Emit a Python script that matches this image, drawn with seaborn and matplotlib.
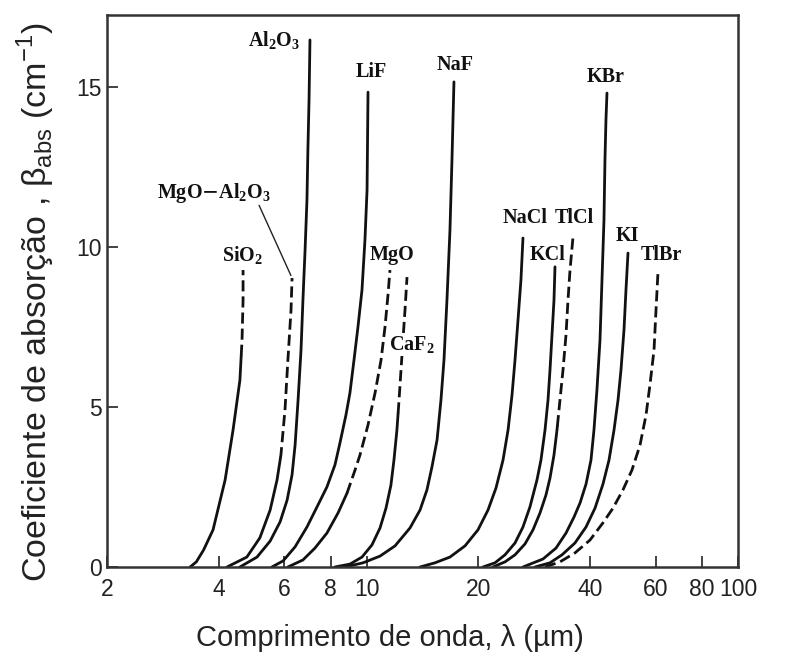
import numpy as np
import pandas as pd
import seaborn as sns
import matplotlib
matplotlib.use('Agg')
import matplotlib.pyplot as plt
from matplotlib.ticker import FixedLocator, FixedFormatter, NullLocator

# comprimento de onda (um) x coeficiente de absorcao (cm^-1)
sio2_x = [3.35, 3.48, 3.64, 3.86, 4.16, 4.37, 4.56, 4.62, 4.65, 4.65]
sio2_y = [0.0, 0.16, 0.53, 1.16, 2.72, 4.28, 5.84, 7.09, 8.34, 9.28]

mgoal_x = [4.21, 4.76, 5.16, 5.50, 5.74, 5.88, 6.03, 6.14, 6.26, 6.30]
mgoal_y = [0.0, 0.31, 0.91, 1.78, 2.72, 3.50, 4.91, 6.47, 8.03, 9.03]

al2o3_x = [4.56, 5.07, 5.50, 5.85, 6.11, 6.30, 6.42, 6.54, 6.66, 6.74, 6.83, 6.91, 6.95, 7.00, 7.04]
al2o3_y = [0.0, 0.31, 0.81, 1.41, 2.09, 2.88, 3.81, 5.22, 6.78, 8.34, 9.91, 11.47, 13.03, 14.59, 16.47]

lif_x = [5.56, 5.96, 6.42, 6.91, 7.40, 7.82, 8.22, 8.48, 8.80, 9.02, 9.25, 9.48, 9.72, 9.90, 10.03, 10.09]
lif_y = [0.0, 0.19, 0.63, 1.25, 1.94, 2.50, 3.19, 3.88, 4.75, 5.44, 6.47, 7.50, 8.66, 10.22, 11.78, 14.84]

mgo_x = [6.14, 6.74, 7.26, 7.82, 8.38, 8.86, 9.31, 9.60, 10.09, 10.54, 10.94, 11.21, 11.42, 11.56]
mgo_y = [0.0, 0.22, 0.59, 1.06, 1.69, 2.31, 3.03, 3.50, 4.44, 5.44, 6.47, 7.50, 8.50, 9.28]

caf2_x = [8.22, 9.02, 9.72, 10.34, 10.87, 11.28, 11.63, 11.85, 12.07, 12.23, 12.38, 12.53, 12.69, 12.85]
caf2_y = [0.0, 0.09, 0.31, 0.69, 1.22, 1.84, 2.56, 3.34, 4.28, 5.22, 6.16, 7.09, 8.03, 9.06]

naf_x = [8.75, 9.78, 10.87, 11.93, 13.09, 13.93, 14.54, 15.00, 15.48, 15.86, 16.16, 16.46, 16.77, 16.98, 17.19]
naf_y = [0.0, 0.13, 0.34, 0.66, 1.22, 1.78, 2.41, 3.13, 3.97, 5.22, 6.47, 8.34, 10.53, 12.72, 15.16]

nacl_x = [13.93, 15.28, 16.77, 18.41, 19.95, 21.23, 22.31, 23.30, 24.04, 24.64, 25.10, 25.57, 26.04, 26.37]
nacl_y = [0.0, 0.13, 0.31, 0.66, 1.16, 1.78, 2.47, 3.34, 4.28, 5.38, 6.47, 7.72, 8.97, 10.28]

kcl_x = [20.57, 22.17, 23.59, 25.10, 26.37, 27.54, 28.76, 29.48, 30.23, 30.80, 31.18, 31.57, 31.96, 32.16]
kcl_y = [0.0, 0.13, 0.38, 0.75, 1.25, 1.88, 2.72, 3.34, 4.28, 5.22, 6.16, 7.25, 8.34, 9.38]

tlcl_x = [21.89, 23.59, 25.10, 26.70, 28.06, 29.31, 30.41, 31.18, 31.96, 32.56, 33.17, 33.80, 34.43, 34.86, 35.30, 35.96]
tlcl_y = [0.0, 0.16, 0.38, 0.72, 1.16, 1.69, 2.25, 2.78, 3.50, 4.28, 5.22, 6.16, 7.25, 8.34, 9.28, 10.31]

kbr_x = [26.37, 29.86, 32.36, 34.43, 36.18, 37.56, 38.98, 40.20, 40.95, 41.71, 42.51, 43.04, 43.57, 43.84, 44.11, 44.39]
kbr_y = [0.0, 0.25, 0.59, 1.06, 1.56, 2.00, 2.59, 3.34, 4.28, 5.53, 7.09, 8.97, 10.84, 12.72, 13.97, 14.81]

ki_x = [28.41, 31.18, 33.59, 36.40, 38.98, 41.22, 43.30, 44.95, 46.37, 47.54, 48.42, 49.33, 49.94, 50.57]
ki_y = [0.0, 0.13, 0.38, 0.75, 1.25, 1.84, 2.59, 3.34, 4.28, 5.22, 6.16, 7.41, 8.66, 9.81]

tlbr_x = [30.23, 33.17, 36.40, 39.94, 43.30, 46.08, 49.02, 51.83, 54.48, 56.55, 57.94, 59.42, 60.16, 60.90]
tlbr_y = [0.0, 0.16, 0.44, 0.84, 1.38, 1.84, 2.41, 3.03, 3.81, 4.75, 5.69, 6.78, 8.03, 9.22]

x_ticks = [2, 4, 6, 8, 10, 20, 40, 60, 80, 100]
x_ticklabels = ['2', '4', '6', '8', '10', '20', '40', '60', '80', '100']
y_ticks = [0, 5, 10, 15]

# (x, y, y a partir do qual a curva fica tracejada; None = toda continua)
curves = [
    (sio2_x, sio2_y, 6.6),
    (mgoal_x, mgoal_y, 3.4),
    (al2o3_x, al2o3_y, None),
    (lif_x, lif_y, None),
    (mgo_x, mgo_y, 2.3),
    (caf2_x, caf2_y, 4.8),
    (naf_x, naf_y, None),
    (nacl_x, nacl_y, None),
    (kcl_x, kcl_y, None),
    (tlcl_x, tlcl_y, 4.4),
    (kbr_x, kbr_y, None),
    (ki_x, ki_y, None),
    (tlbr_x, tlbr_y, 0.0),
]

sns.set_style('ticks')
plt.rcParams['font.family'] = ['Liberation Sans', 'DejaVu Sans']

fig = plt.figure(figsize=(7.86, 6.64), dpi=100)
ax = fig.add_axes([0.1361, 0.1461, 0.8028, 0.8313])

line_kw = dict(color='#111111', linewidth=2.0, sort=False, estimator=None, legend=False)
for xs, ys, dash_from in curves:
    xs = np.array(xs)
    ys = np.array(ys)
    if dash_from is None:
        sns.lineplot(x=xs, y=ys, ax=ax, **line_kw)
        continue
    xb = np.interp(dash_from, ys, xs)
    lo = ys < dash_from
    hi = ys > dash_from
    if lo.any():
        sns.lineplot(x=np.append(xs[lo], xb), y=np.append(ys[lo], dash_from), ax=ax, **line_kw)
    sns.lineplot(x=np.insert(xs[hi], 0, xb), y=np.insert(ys[hi], 0, dash_from), ax=ax,
                 dashes=False, **line_kw)
    ax.lines[-1].set_dashes((4.0, 1.8))

ax.set_xscale('log')
ax.set_xlim(2, 100)
ax.set_ylim(0, 17.25)
ax.xaxis.set_major_locator(FixedLocator(x_ticks))
ax.xaxis.set_major_formatter(FixedFormatter(x_ticklabels))
ax.xaxis.set_minor_locator(NullLocator())
ax.set_yticks(y_ticks)
ax.tick_params(direction='in', length=8, width=1.2, colors='#222222',
               labelsize=16.5, labelcolor='#222222')
ax.tick_params(axis='x', pad=8)
ax.tick_params(axis='y', pad=4)

for side in ['top', 'right', 'left', 'bottom']:
    ax.spines[side].set_visible(True)
    ax.spines[side].set_linewidth(1.8)
    ax.spines[side].set_color('#333333')

ax.set_xlabel('Comprimento de onda, λ (µm)', fontsize=21, color='#222222', va='center')
ax.xaxis.set_label_coords(0.448, -0.129)
ax.set_ylabel('Coeficiente de absorção , β$_{\\mathregular{abs}}$ (cm$^{\\mathregular{-1}}$)',
              fontsize=24.5, color='#222222', va='center')
ax.yaxis.set_label_coords(-0.113, 0.48)

serif = dict(family='Liberation Serif', fontsize=14.5, fontweight='bold', color='#111111',
             ha='center', va='center')
ax.text(5.63, 16.44, 'Al$_{\\mathregular{2}}$O$_{\\mathregular{3}}$', **serif)
ax.text(10.28, 15.47, 'LiF', **serif)
ax.text(17.30, 15.69, 'NaF', **serif)
ax.text(44.1, 15.31, 'KBr', **serif)
ax.text(4.65, 9.72, 'SiO$_{\\mathregular{2}}$', **serif)
ax.text(3.88, 11.69, 'MgO$-$Al$_{\\mathregular{2}}$O$_{\\mathregular{3}}$', **serif)
ax.text(11.70, 9.75, 'MgO', **serif)
ax.text(13.2, 6.94, 'CaF$_{\\mathregular{2}}$',
        bbox=dict(facecolor='white', edgecolor='none', pad=0.5), **serif)
ax.text(26.70, 10.91, 'NaCl', **serif)
ax.text(36.18, 10.91, 'TlCl', **serif)
ax.text(30.80, 9.75, 'KCl', **serif)
ax.text(50.25, 10.34, 'KI', **serif)
ax.text(62.03, 9.75, 'TlBr', **serif)

# linha de chamada do MgO-Al2O3
ax.annotate('', xy=(mgoal_x[-1], mgoal_y[-1]), xytext=(5.10, 11.38),
            arrowprops=dict(arrowstyle='-', color='#222222', linewidth=1.0))

fig.savefig('out.png', dpi=100)
